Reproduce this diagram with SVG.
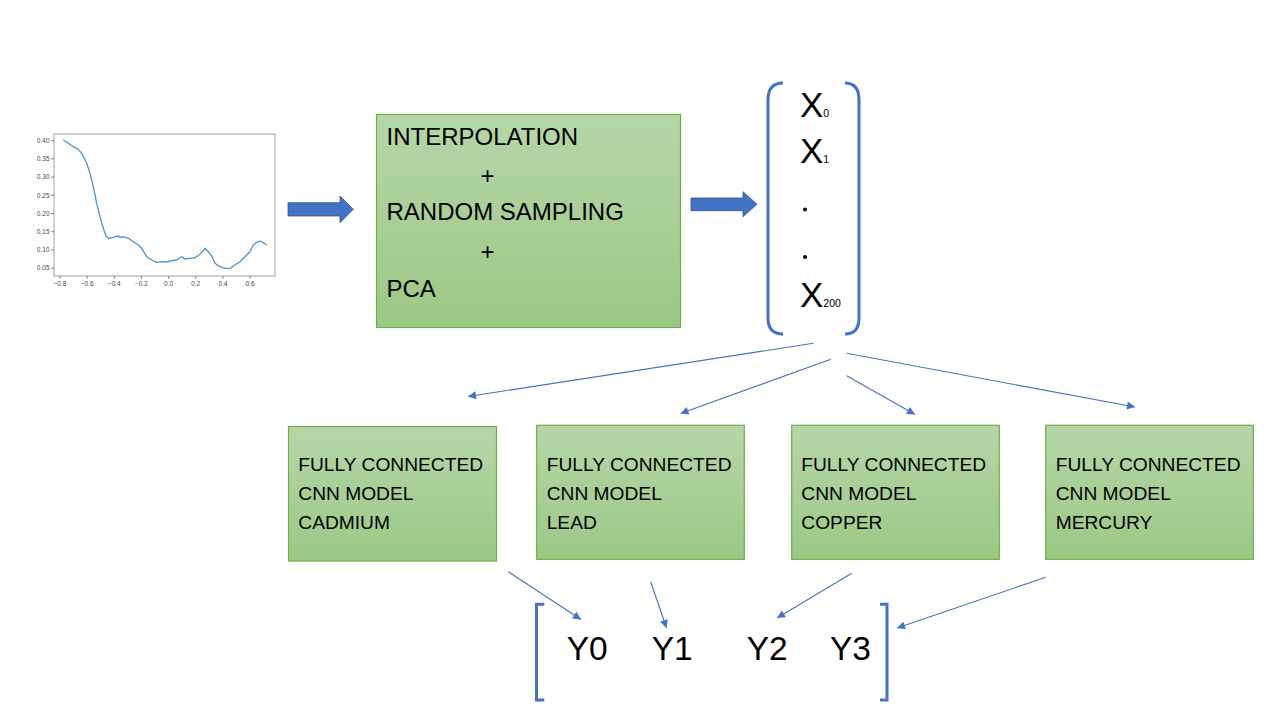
<svg xmlns="http://www.w3.org/2000/svg" width="1280" height="720" viewBox="0 0 1280 720">
<style>
.t{font-family:"Liberation Sans",Arial,sans-serif;fill:#000}
.m{font-size:19.2px}
.y{font-size:33.5px}
.box{fill:url(#g);stroke:#70ad47;stroke-width:1.2}
.br{fill:none;stroke:#4472c4;stroke-width:3}
.fat{fill:#4472c4;stroke:#2f528f;stroke-width:0.8}
.con{stroke:#4472c4;stroke-width:1.1;fill:none;marker-end:url(#ah)}
.tk{font-family:"Liberation Sans",Arial,sans-serif;font-size:6.5px;fill:#444}
.tick{stroke:#555;stroke-width:0.7}
</style>
<defs>
<linearGradient id="g" x1="0" y1="0" x2="0" y2="1">
<stop offset="0" stop-color="#b6d6a8"/>
<stop offset="1" stop-color="#9cc885"/>
</linearGradient>
<marker id="ah" viewBox="0 0 10 10" refX="10" refY="5" markerUnits="userSpaceOnUse" markerWidth="10" markerHeight="8" orient="auto">
<path d="M0,0 L10,5 L0,10 z" fill="#4472c4"/>
</marker>
</defs>
<rect width="1280" height="720" fill="#fff"/>

<g id="plot">
<rect x="54" y="134" width="221" height="142" fill="#fff" stroke="#888" stroke-width="0.8"/>
<g class="tick">
<line x1="51" y1="140.7" x2="54" y2="140.7"/><line x1="51" y1="158.9" x2="54" y2="158.9"/>
<line x1="51" y1="177.1" x2="54" y2="177.1"/><line x1="51" y1="195.3" x2="54" y2="195.3"/>
<line x1="51" y1="213.5" x2="54" y2="213.5"/><line x1="51" y1="231.7" x2="54" y2="231.7"/>
<line x1="51" y1="249.9" x2="54" y2="249.9"/><line x1="51" y1="268.1" x2="54" y2="268.1"/>
<line x1="60" y1="276" x2="60" y2="279"/><line x1="87.1" y1="276" x2="87.1" y2="279"/>
<line x1="114.3" y1="276" x2="114.3" y2="279"/><line x1="141.4" y1="276" x2="141.4" y2="279"/>
<line x1="168.6" y1="276" x2="168.6" y2="279"/><line x1="195.7" y1="276" x2="195.7" y2="279"/>
<line x1="222.9" y1="276" x2="222.9" y2="279"/><line x1="250" y1="276" x2="250" y2="279"/>
</g>
<g class="tk" text-anchor="end">
<text x="49.5" y="143">0.40</text><text x="49.5" y="161.2">0.35</text>
<text x="49.5" y="179.4">0.30</text><text x="49.5" y="197.6">0.25</text>
<text x="49.5" y="215.8">0.20</text><text x="49.5" y="234">0.15</text>
<text x="49.5" y="252.2">0.10</text><text x="49.5" y="270.4">0.05</text>
</g>
<g class="tk" text-anchor="middle">
<text x="60" y="286">−0.8</text><text x="87.1" y="286">−0.6</text>
<text x="114.3" y="286">−0.4</text><text x="141.4" y="286">−0.2</text>
<text x="168.6" y="286">0.0</text><text x="195.7" y="286">0.2</text>
<text x="222.9" y="286">0.4</text><text x="250" y="286">0.6</text>
</g>
<polyline fill="none" stroke="#4b91cc" stroke-width="1.3" stroke-linejoin="round" points="63.3,140 68.3,143.3 73.3,146.7 78.3,149.3 81.7,153.3 86.7,163.3 90,173.3 93.3,186.7 96.7,203.3 100,216.7 103.3,228.3 106,236 108.3,238.3 113.3,237.3 116,236.5 118.3,236 120,237.5 123.3,236.7 128.3,238.3 133.3,241.7 138.3,245 141.7,248.3 146.7,256.7 151.7,260 156.7,262.3 161.7,261.7 166.7,262 171.7,260.7 176.7,260 181.7,256.7 185,259 190,258.3 195,257.7 200,254.3 205,248.3 208.3,251.7 211.7,256 215,263.3 220,266.7 225,268.3 230,268.3 235,265 240,261.7 245,256.7 250,251.7 253.3,245 256.7,242.3 260,241 263.3,242.7 266.7,245"/>
</g>

<g id="arrow-in">
<path class="fat" d="M288,202.7 H340 V196 L353.3,209.3 L340,222.7 V216 H288 Z"/>
</g>

<g id="preprocess">
<rect class="box" x="376.5" y="114.5" width="304" height="213"/>
<text class="t" font-size="24" x="386.5" y="145">INTERPOLATION</text>
<text class="t" font-size="24" x="480.5" y="183.5">+</text>
<text class="t" font-size="24" x="386.5" y="220">RANDOM SAMPLING</text>
<text class="t" font-size="24" x="480.5" y="260">+</text>
<text class="t" font-size="24" x="386.5" y="297">PCA</text>
</g>

<g id="arrow-mid">
<path class="fat" d="M691,198 H743 V191.7 L757,204.2 L743,216.7 V210.7 H691 Z"/>
</g>

<g id="features">
<path class="br" d="M783,83 Q768,83 768,100 V318 Q768,334 783,334"/>
<path class="br" d="M845,83 Q859,83 859,100 V318 Q859,334 845,334"/>
<text class="t" font-size="35" x="800" y="116.7">X<tspan font-size="10.5">0</tspan></text>
<text class="t" font-size="35" x="800" y="163.3">X<tspan font-size="10.5">1</tspan></text>
<circle cx="805" cy="209.5" r="2" fill="#000"/>
<circle cx="805" cy="257" r="2" fill="#000"/>
<text class="t" font-size="35" x="800" y="306.7">X<tspan font-size="10.5">200</tspan></text>
</g>

<g id="model-cadmium">
<rect class="box" x="288.5" y="426.5" width="208" height="134.5"/>
<text class="t m" x="298.3" y="470.7">FULLY CONNECTED</text>
<text class="t m" x="298.3" y="500">CNN MODEL</text>
<text class="t m" x="298.3" y="529.3">CADMIUM</text>
</g>
<g id="model-lead">
<rect class="box" x="536.7" y="425.3" width="207.6" height="134"/>
<text class="t m" x="546.7" y="470.7">FULLY CONNECTED</text>
<text class="t m" x="546.7" y="500">CNN MODEL</text>
<text class="t m" x="546.7" y="529.3">LEAD</text>
</g>
<g id="model-copper">
<rect class="box" x="791.7" y="425.3" width="207.6" height="134"/>
<text class="t m" x="801.3" y="470.7">FULLY CONNECTED</text>
<text class="t m" x="801.3" y="500">CNN MODEL</text>
<text class="t m" x="801.3" y="529.3">COPPER</text>
</g>
<g id="model-mercury">
<rect class="box" x="1045.7" y="425.3" width="207.6" height="134"/>
<text class="t m" x="1055.7" y="470.7">FULLY CONNECTED</text>
<text class="t m" x="1055.7" y="500">CNN MODEL</text>
<text class="t m" x="1055.7" y="529.3">MERCURY</text>
</g>

<g id="outputs">
<path class="br" d="M544.3,604.3 H536.5 V700 H544.3"/>
<path class="br" d="M880,604.3 H887 V700 H880"/>
<text class="t y" x="566.7" y="660">Y0</text>
<text class="t y" x="651.7" y="660">Y1</text>
<text class="t y" x="746.7" y="660">Y2</text>
<text class="t y" x="830" y="660">Y3</text>
</g>

<g id="connectors">
<line class="con" x1="813.3" y1="343.3" x2="468" y2="396.5"/>
<line class="con" x1="830.7" y1="359.3" x2="680.5" y2="413.5"/>
<line class="con" x1="846.7" y1="375.7" x2="915" y2="414.5"/>
<line class="con" x1="846.7" y1="353.3" x2="1135" y2="407"/>
<line class="con" x1="508.3" y1="571.7" x2="581" y2="619.5"/>
<line class="con" x1="650.7" y1="581.7" x2="666.5" y2="628"/>
<line class="con" x1="851.7" y1="573.3" x2="777" y2="618"/>
<line class="con" x1="1045.7" y1="577.3" x2="897" y2="628"/>
</g>
</svg>
